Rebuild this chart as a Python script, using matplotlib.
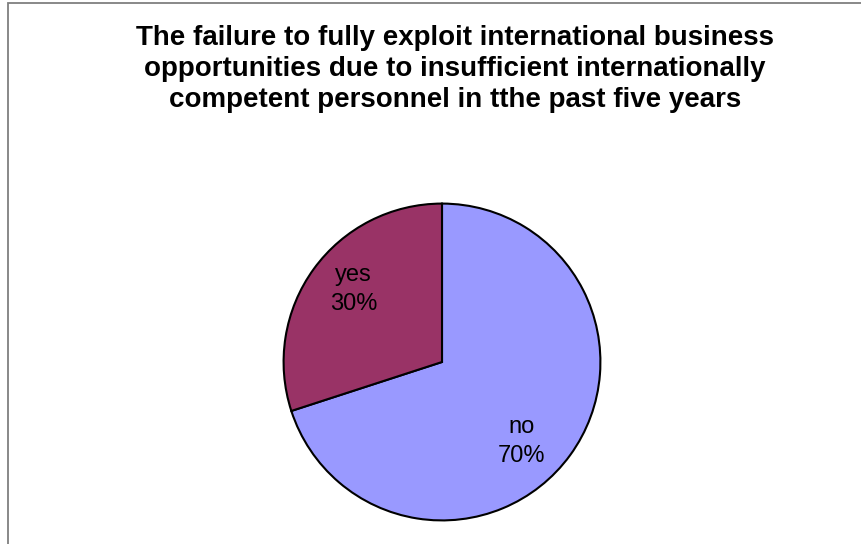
import matplotlib
matplotlib.use("Agg")
import matplotlib.pyplot as plt
from matplotlib.patches import Rectangle

categories = ["no", "yes"]
shares = [70, 30]
colors = ["#9999FF", "#993366"]
title = ("The failure to fully exploit international business\n"
         "opportunities due to insufficient internationally\n"
         "competent personnel in tthe past five years")

W, H = 862, 544
plt.rcParams["font.family"] = ["Liberation Sans", "DejaVu Sans"]
fig = plt.figure(figsize=(W / 100, H / 100), dpi=100)
fig.patch.set_facecolor("white")

# chart frame (runs past the right and bottom edges)
fig.patches.append(Rectangle((8 / W, -0.2), 1.2, (H - 3.5) / H + 0.2,
                             transform=fig.transFigure, fill=False,
                             edgecolor="#7f7f7f", linewidth=1.3))

fig.text(455 / W, (H - 69) / H, title, ha="center", va="center",
         fontsize=20, fontweight="bold", linespacing=1.27)

cx, cy, r = 442, H - 362, 160
ax = fig.add_axes([(cx - r) / W, (cy - r) / H, 2 * r / W, 2 * r / H])
wedges, texts = ax.pie(shares, colors=colors, startangle=90, counterclock=False,
                       radius=1, wedgeprops=dict(edgecolor="black", linewidth=1.5),
                       labels=[f"{c}\n{v}%" for c, v in zip(categories, shares)],
                       labeldistance=0.72,
                       textprops=dict(fontsize=17, ha="center", va="center",
                                      linespacing=1.4))
# label placement inside the wedges
label_pos = [(0.50, -0.50), (-0.56, 0.46)]
for t, p in zip(texts, label_pos):
    t.set_position(p)
ax.set_xlim(-1.01, 1.01)
ax.set_ylim(-1.01, 1.01)
ax.set_aspect("equal")
ax.axis("off")

fig.savefig("out.png", dpi=100, facecolor="white")
